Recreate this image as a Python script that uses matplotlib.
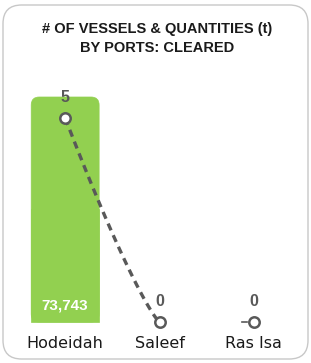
import numpy as np
import matplotlib.pyplot as plt
from matplotlib.patches import FancyBboxPatch, Rectangle

ports = ["Hodeidah", "Saleef", "Ras Isa"]
vessels = [5, 0, 0]
quantities = [73743, 0, 0]
qty_labels = ["73,743", "", ""]

W, H = 311, 363
fig = plt.figure(figsize=(W / 100, H / 100), dpi=100)

# card border
card = FancyBboxPatch((3 / W, 4 / H), 305 / W, 354 / H,
                      boxstyle="round,pad=0,rounding_size=0.06",
                      transform=fig.transFigure, facecolor="white",
                      edgecolor="#c8c8c8", linewidth=1.0,
                      mutation_aspect=W / H, zorder=-10)
fig.patches.append(card)

fig.text(0.505, 1 - 29 / H, "# OF VESSELS & QUANTITIES (t)", ha="center", va="center",
         fontsize=10.5, fontweight="bold", color="#1a1a1a", family="Liberation Sans")
fig.text(0.505, 1 - 48 / H, "BY PORTS: CLEARED", ha="center", va="center",
         fontsize=10.5, fontweight="bold", color="#1a1a1a", family="Liberation Sans")

# axes: x from 18 to 301 px, y from 330 (bottom) to 85 (top)
left, right, bottom, top = 18, 301, 330, 85
ax_bar = fig.add_axes([left / W, 1 - bottom / H, (right - left) / W, (bottom - top) / H])
ax_bar.patch.set_alpha(0)
x = np.arange(len(ports))

px_q = 225 / quantities[0]
ax_bar.set_ylim(-8 / px_q, (322 - top) / px_q)
ax_bar.set_xlim(-0.5, 2.5)
bars = ax_bar.bar(x, quantities, width=0.72, color="#92D050")

# rounded top corners
xu = 3 / (right - left)      # x data units per pixel
yu = 1 / px_q                # y data units per pixel
for b in bars:
    bx, by, bw, bh = b.get_x(), b.get_y(), b.get_width(), b.get_height()
    if bh <= 0:
        continue
    b.set_visible(False)
    ax_bar.add_patch(FancyBboxPatch((bx, by), bw, bh,
                                    boxstyle="round,pad=0,rounding_size=%f" % (8 * xu),
                                    mutation_aspect=yu / xu, facecolor="#92D050",
                                    edgecolor="#92D050", linewidth=0.5))
    ax_bar.add_patch(Rectangle((bx, by), bw, bh / 2, facecolor="#92D050",
                               edgecolor="#92D050", linewidth=0.5))

for xi, q, lab in zip(x, quantities, qty_labels):
    if lab:
        ax_bar.text(xi, q * 0.075, lab, ha="center", va="center", color="white",
                    fontsize=11, fontweight="bold", family="Liberation Sans")
ax_bar.axis("off")

ax_line = ax_bar.twinx()
px_v = (322 - 118) / vessels[0]
ax_line.set_ylim(-8 / px_v, (322 - top) / px_v)
ax_line.set_xlim(-0.5, 2.5)

# smoothed line from Hodeidah to Saleef
t = np.linspace(0, 1, 60)
xs = x[0] + (x[1] - x[0]) * t
s = 1 - (1 - t) ** 1.2
ys = vessels[0] + (vessels[1] - vessels[0]) * s
ax_line.plot(xs, ys, color="#595959", linestyle=(0, (2.2, 1.6)), linewidth=2.4, zorder=2)
ax_line.plot([x[2] - 0.13, x[2] - 0.07], [vessels[2], vessels[2]], color="#595959",
             linewidth=1.2, zorder=2)
ax_line.plot(x, vessels, linestyle="none", marker="o", markersize=7.5,
             markerfacecolor="white", markeredgecolor="#595959", markeredgewidth=1.8, zorder=3)
for xi, v in zip(x, vessels):
    ax_line.text(xi, v + 21 / px_v, str(v), ha="center", va="center", color="#595959",
                 fontsize=11.5, fontweight="bold", family="Liberation Sans")
ax_line.axis("off")

for xi, p in zip(x, ports):
    fig.text((left + (xi + 0.5) * (right - left) / 3) / W, 1 - 343 / H, p,
             ha="center", va="center", fontsize=11.5, color="#1a1a1a")

fig.savefig("out.png", dpi=100)
